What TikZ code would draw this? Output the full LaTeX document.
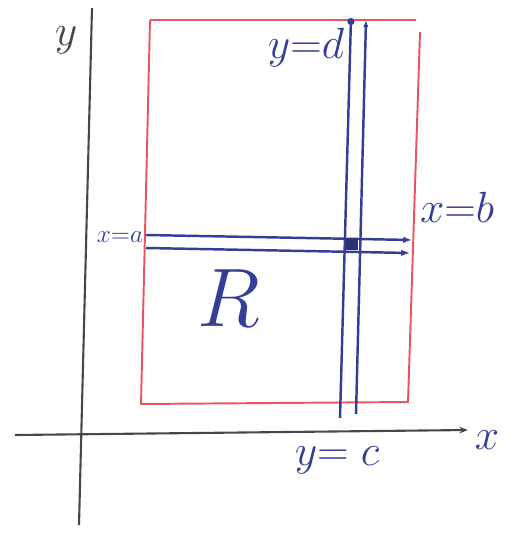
\documentclass[tikz,border=0pt]{standalone}
\usepackage{xcolor}
\usetikzlibrary{arrows.meta}
\definecolor{inkblue}{RGB}{52,62,150}
\definecolor{inkred}{RGB}{232,84,96}
\definecolor{inkgray}{RGB}{70,70,80}
\tikzset{
  axisline/.style={line width=1.2pt, draw=inkgray},
  regionline/.style={line width=1.1pt, draw=inkred},
  stripline/.style={line width=1.4pt, draw=inkblue},
  handlabel/.style={text=inkblue, inner sep=0pt, font=\fontsize{24}{26}\selectfont},
  smalllabel/.style={text=inkblue, inner sep=0pt, font=\fontsize{14}{16}\selectfont}
}
\begin{document}
\begin{tikzpicture}[x=0.02cm,y=-0.02cm]
\useasboundingbox (0,0) rectangle (509,533);
% axes
\coordinate (yt) at (92,8);
\coordinate (yb) at (79,525);
\coordinate (xl) at (15,435);
\coordinate (xr) at (468,430);
\draw[axisline] (yb) -- (yt);
\draw[axisline,-{Stealth[length=5pt]}] (xl) -- (xr);
\node[handlabel,text=inkgray] (ylab) at (66,40) {$y$};
\node[handlabel] (xlab) at (487,440) {$x$};
% region R
\coordinate (r1) at (150,20);
\coordinate (r2) at (416,20);
\coordinate (r3) at (408,402);
\coordinate (r4) at (141,404);
\draw[regionline] (r1) -- (r2) (r2) ++(4,12) -- (r3) -- (r4) -- (r1);
% vertical strip
\coordinate (v1t) at (351,18);
\coordinate (v1b) at (340,418);
\coordinate (v2t) at (366,20);
\coordinate (v2b) at (356,414);
\draw[stripline,{Circle[length=4pt]}-] (v1t) -- (v1b);
\draw[stripline,{Latex[length=4pt]}-] (v2t) -- (v2b);
% horizontal strip
\coordinate (h1l) at (146,235);
\coordinate (h1r) at (412,240);
\coordinate (h2l) at (146,248);
\coordinate (h2r) at (410,253);
\draw[stripline,-{Latex[length=5pt]}] (h1l) -- (h1r);
\draw[stripline,-{Latex[length=5pt]}] (h2l) -- (h2r);
\fill[inkblue!80!black] (346,238) rectangle (358,250);
% labels
\node[handlabel] (yd) at (306,48) {$y{=}d$};
\node[handlabel] (xb) at (457,207) {$x{=}b$};
\node[smalllabel] (xa) at (120,237) {$x{=}a$};
\node[handlabel,scale=1.9,transform shape] (R) at (229,298) {$R$};
\node[handlabel] (yc) at (337,460) {$y{=}\;c$};
\end{tikzpicture}
\end{document}
